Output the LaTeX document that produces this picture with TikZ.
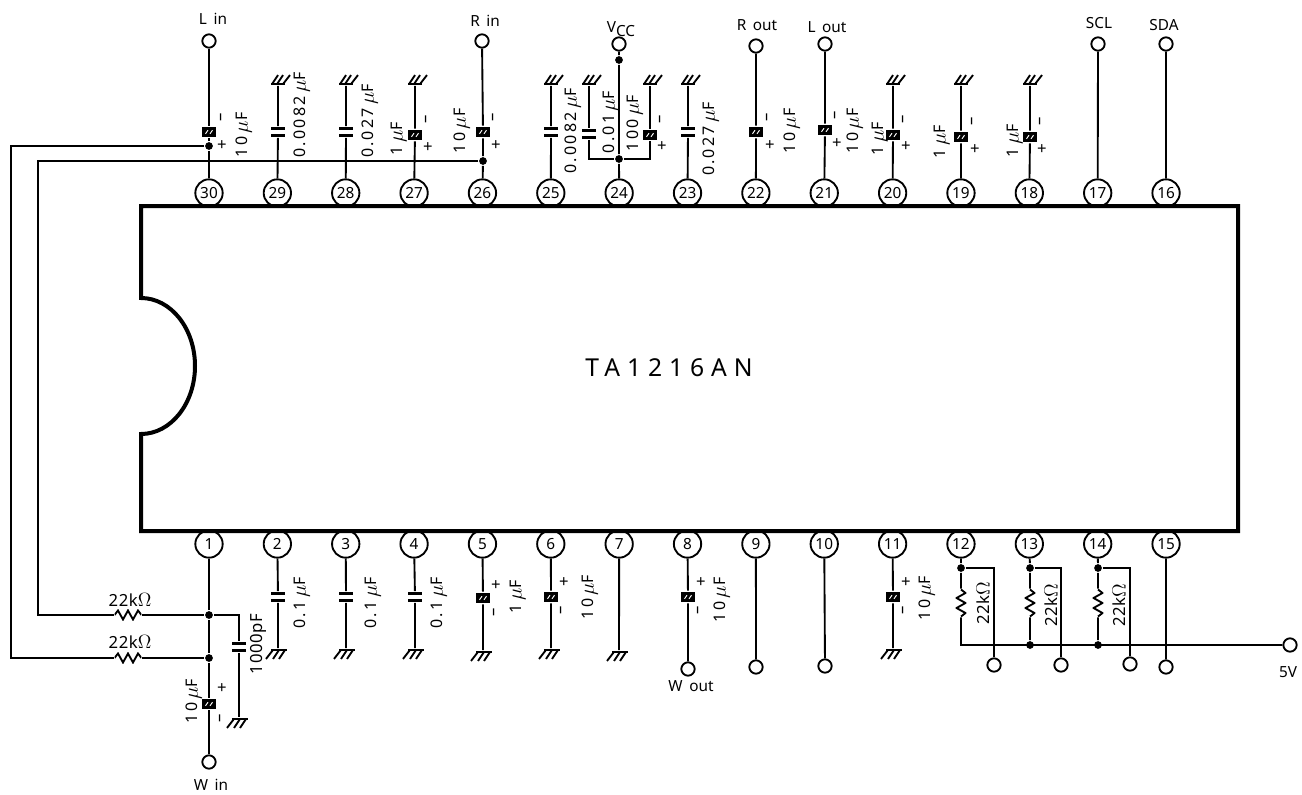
\documentclass[tikz,border=0pt]{standalone}
\usepackage{graphicx}
\usepackage{fontspec}
\setmainfont{Noto Sans}
\newfontfamily\spacedfont[LetterSpace=14]{Noto Sans}
\newfontfamily\midfont[LetterSpace=4]{Noto Sans}
\newfontfamily\chipfont[LetterSpace=28]{Noto Sans}
\usetikzlibrary{positioning,calc}

\newcommand{\uF}{\hspace{.22em}\scalebox{1.3}{$\mu$}F}
\newcommand{\kOhm}{k\scalebox{1.2}{$\Omega$}}

\tikzset{
  pbb/.style={shift={(path picture bounding box.center)}},
  pin/.style={circle,draw,fill=white,inner sep=0pt,minimum size=20.5pt,font=\fontsize{11.5}{12}\selectfont},
  term/.style={circle,draw,fill=white,inner sep=0pt,minimum size=10pt},
  dot/.style={circle,fill=black,inner sep=0pt,minimum size=5.8pt},
  lab/.style={inner sep=0pt,font=\fontsize{11.5}{12}\selectfont},
  olab/.style={inner sep=0pt,font=\midfont\fontsize{12.5}{13}\selectfont},
  vlab/.style={inner sep=0pt,rotate=90,text depth=0pt,font=\spacedfont\fontsize{12}{12}\selectfont},
  rlab/.style={inner sep=0pt,rotate=90,text depth=0pt,font=\midfont\fontsize{12.5}{13}\selectfont},
  plus/.style={inner sep=0pt,font=\fontsize{12.5}{13}\selectfont},
  minus/.style={inner sep=0pt,rotate=90,font=\bfseries\fontsize{12.5}{13}\selectfont},
  capnp/.style={fill=white,inner sep=0pt,minimum width=10.5pt,minimum height=7.5pt,
    path picture={\begin{scope}[pbb]
      \fill[black] (-7,-5) rectangle (7,-1.7);
      \fill[black] (-7,1.7) rectangle (7,5);
    \end{scope}}},
  capel/.style={fill=black,inner sep=0pt,minimum width=10.2pt,minimum height=8pt,
    path picture={\begin{scope}[pbb]
      \draw[white,line width=.7pt] (-3.5,1.8) -- (-1,-1.8) (1,1.8) -- (3.5,-1.8);
    \end{scope}}},
  gndup/.style={inner sep=0pt,anchor=south,minimum width=24pt,minimum height=9pt,
    path picture={\begin{scope}[pbb]
      \draw[line width=1.8pt] (-7,5) -- (7,5);
      \draw (-6,5) -- (0,-4) (-1,5) -- (5,-4) (5,5) -- (12,-4);
    \end{scope}}},
  gnddn/.style={inner sep=0pt,anchor=north,minimum width=24pt,minimum height=9pt,
    path picture={\begin{scope}[pbb]
      \draw[line width=1.8pt] (-7,-5) -- (9,-5);
      \draw (-5,-5) -- (-12,4) (1,-5) -- (-5,4) (7,-5) -- (1,4);
    \end{scope}}},
  resh/.style={inner sep=0pt,minimum width=20pt,minimum height=8pt,
    path picture={\begin{scope}[pbb]
      \draw (-13.5,0) -- (-10,-4.5) -- (-5,4.5) -- (0,-4.5) -- (5,4.5) -- (10,-4.5) -- (13.5,0);
    \end{scope}}},
  resv/.style={inner sep=0pt,minimum width=8pt,minimum height=20pt,
    path picture={\begin{scope}[pbb]
      \draw (0,-13.5) -- (4.5,-10) -- (-4.5,-5) -- (4.5,0) -- (-4.5,5) -- (4.5,10) -- (0,13.5);
    \end{scope}}},
}

\begin{document}
\begin{tikzpicture}[x=0.75pt,y=-0.75pt,line width=1.4pt]
\useasboundingbox (0,0) rectangle (1302,795);

\foreach \n in {1,...,15} {
  \pgfmathsetmacro{\px}{209+68.36*(\n-1)}
  \pgfmathtruncatemacro{\m}{31-\n}
  \node (p\n) [pin] at (\px,544) {\n};
  \node (p\m) [pin] at (\px,193) {\m};
}

\coordinate (a) at (141,298);
\draw[line width=3pt] (a) arc[start angle=-90,end angle=90,x radius=54,y radius=68] -- (141,531) -- (1238,531) -- (1238,206) -- (141,206) -- cycle;
\node (chip) [font=\chipfont\fontsize{18.5}{20}\selectfont] at (669,368) {TA1216AN};

% ------------------------------- top row, pins 30 to 26

\node (t30) [term] at (209,41) {};
\node (l30) [lab] at (213,19) {L\, in};
\node (c30) [capel] at (209,132) {};
\node (j30) [dot] at (209,146) {};
\node (m30) [minus] at (223,117) {\textendash};
\node (s30) [plus] at (222,146) {+};
\node (v30) [vlab] at (242,135) {10\uF};
\draw (t30) -- (c30) -- (j30) -- (p30);

\node (g29) [gndup] at (278,86) {};
\node (c29) [capnp] at (278,132) {};
\node (v29) [vlab] at (300,115) {0.0082\uF};
\draw (g29) -- (c29) -- (p29);

\node (g28) [gndup] at (346,86) {};
\node (c28) [capnp] at (346,132) {};
\node (v28) [vlab] at (368,121) {0.027\uF};
\draw (g28) -- (c28) -- (p28);

\node (g27) [gndup] at (415,86) {};
\node (c27) [capel] at (415,135) {};
\node (m27) [minus] at (428,119) {\textendash};
\node (s27) [plus] at (428,148) {+};
\node (v27) [vlab] at (397,139) {1\uF};
\draw (g27) -- (c27) -- (p27);

\node (t26) [term] at (482,41) {};
\node (l26) [lab] at (485,21) {R\, in};
\node (c26) [capel] at (483,132) {};
\node (j26) [dot] at (483,161) {};
\node (m26) [minus] at (495,117) {\textendash};
\node (s26) [plus] at (496,146) {+};
\node (v26) [vlab] at (460,131) {10\uF};
\draw (t26) -- (c26) -- (j26) -- (p26);

% ------------------------------- top row, pins 25 to 21

\node (g25) [gndup] at (551,86) {};
\node (c25) [capnp] at (551,132) {};
\node (v25) [vlab] at (571,131) {0.0082\uF};
\draw (g25) -- (c25) -- (p25);

\node (t24) [term] at (619,44) {};
\node (l24) [lab] at (621,29) {V\raisebox{-3pt}{CC}};
\node (j24a) [dot] at (619,60) {};
\node (j24b) [dot] at (619,159) {};
\node (g24a) [gndup] at (589,86) {};
\node (c24a) [capnp] at (589,134) {};
\node (v24a) [vlab] at (609,122) {0.01\uF};
\node (g24b) [gndup] at (650,86) {};
\node (c24b) [capel] at (650,135) {};
\node (m24) [minus] at (662,119) {\textendash};
\node (s24) [plus] at (662,147) {+};
\node (v24b) [vlab] at (633,123) {100\uF};
\draw (t24) -- (j24a) -- (j24b) -- (p24);
\draw (g24a) -- (c24a) |- (j24b) -| (c24b) -- (g24b);

\node (g23) [gndup] at (688,86) {};
\node (c23) [capnp] at (688,132) {};
\node (v23) [vlab] at (709,139) {0.027\uF};
\draw (g23) -- (c23) -- (p23);

\node (t22) [term] at (756,46) {};
\node (l22) [lab] at (757,25) {R\, out};
\node (c22) [capel] at (756,132) {};
\node (m22) [minus] at (769,117) {\textendash};
\node (s22) [plus] at (770,146) {+};
\node (v22) [vlab] at (790,131) {10\uF};
\draw (t22) -- (c22) -- (p22);

\node (t21) [term] at (825,44) {};
\node (l21) [lab] at (827,27) {L\, out};
\node (c21) [capel] at (825,130) {};
\node (m21) [minus] at (837,115) {\textendash};
\node (s21) [plus] at (837,144) {+};
\node (v21) [vlab] at (853,131) {10\uF};
\draw (t21) -- (c21) -- (p21);

% ------------------------------- top row, pins 20 to 16

\node (g20) [gndup] at (893,86) {};
\node (c20) [capel] at (893,135) {};
\node (m20) [minus] at (905,119) {\textendash};
\node (s20) [plus] at (906,147) {+};
\node (v20) [vlab] at (878,139) {1\uF};
\draw (g20) -- (c20) -- (p20);

\node (g19) [gndup] at (961,86) {};
\node (c19) [capel] at (961,137) {};
\node (m19) [minus] at (974,121) {\textendash};
\node (s19) [plus] at (975,150) {+};
\node (v19) [vlab] at (940,142) {1\uF};
\draw (g19) -- (c19) -- (p19);

\node (g18) [gndup] at (1030,86) {};
\node (c18) [capel] at (1030,137) {};
\node (m18) [minus] at (1042,121) {\textendash};
\node (s18) [plus] at (1042,150) {+};
\node (v18) [vlab] at (1013,141) {1\uF};
\draw (g18) -- (c18) -- (p18);

\node (t17) [term] at (1098,44) {};
\node (l17) [lab] at (1099,23) {SCL};
\draw (t17) -- (p17);

\node (t16) [term] at (1166,44) {};
\node (l16) [lab] at (1164,25) {SDA};
\draw (t16) -- (p16);

% ------------------------------- pin 1 and the feedback wires

\node (j1) [dot] at (209,615) {};
\node (j2) [dot] at (209,658) {};
\node (r1) [resh] at (128,615) {};
\node (r2) [resh] at (128,658) {};
\node (o1) [olab] at (130,600) {22\kOhm};
\node (o2) [olab] at (130,642) {22\kOhm};
\node (c1) [capel] at (209,704) {};
\node (s1) [plus] at (222,689) {+};
\node (m1) [minus] at (222,718) {\textendash};
\node (v1) [vlab] at (192,701) {10\uF};
\node (t1) [term] at (209,762) {};
\node (l1) [lab] at (211,785) {W\, in};
\node (cf) [capnp] at (239,647) {};
\node (gf) [gnddn] at (239,717) {};
\node (vf) [rlab] at (256,644) {1000pF};
\coordinate (w1) at (11,146);
\coordinate (w2) at (38,161);
\draw[line width=1.2pt] (j30) -- (w1) |- (r2);
\draw[line width=1.2pt] (j26) -- (w2) |- (r1);
\draw (r1) -- (j1) (r2) -- (j2);
\draw (p1) -- (j1) -- (j2) -- (c1) -- (t1);
\draw (j1) -| (cf) -- (gf);

% ------------------------------- bottom row, pins 2 to 11

\node (c2) [capnp] at (278,597) {};
\node (g2) [gnddn] at (278,648) {};
\node (v2) [vlab] at (300,603) {0.1\uF};
\draw (p2) -- (c2) -- (g2);

\node (c3) [capnp] at (346,597) {};
\node (g3) [gnddn] at (346,648) {};
\node (v3) [vlab] at (371,603) {0.1\uF};
\draw (p3) -- (c3) -- (g3);

\node (c4) [capnp] at (415,597) {};
\node (g4) [gnddn] at (415,648) {};
\node (v4) [vlab] at (437,603) {0.1\uF};
\draw (p4) -- (c4) -- (g4);

\node (c5) [capel] at (483,598) {};
\node (g5) [gnddn] at (483,650) {};
\node (s5) [plus] at (496,586) {+};
\node (m5) [minus] at (496,612) {\textendash};
\node (v5) [vlab] at (516,597) {1\uF};
\draw (p5) -- (c5) -- (g5);

\node (c6) [capel] at (551,597) {};
\node (g6) [gnddn] at (551,648) {};
\node (s6) [plus] at (564,583) {+};
\node (m6) [minus] at (563,610) {\textendash};
\node (v6) [vlab] at (588,597) {10\uF};
\draw (p6) -- (c6) -- (g6);

\node (g7) [gnddn] at (619,650) {};
\draw (p7) -- (g7);

\node (c8) [capel] at (688,597) {};
\node (t8) [term] at (688,669) {};
\node (l8) [lab] at (691,686) {W\, out};
\node (s8) [plus] at (701,583) {+};
\node (m8) [minus] at (700,610) {\textendash};
\node (v8) [vlab] at (720,600) {10\uF};
\draw (p8) -- (c8) -- (t8);

\node (t9) [term] at (756,667) {};
\draw (p9) -- (t9);

\node (t10) [term] at (825,666) {};
\draw (p10) -- (t10);

\node (c11) [capel] at (893,597) {};
\node (g11) [gnddn] at (893,648) {};
\node (s11) [plus] at (906,583) {+};
\node (m11) [minus] at (905,610) {\textendash};
\node (v11) [vlab] at (925,598) {10\uF};
\draw (p11) -- (c11) -- (g11);

% ------------------------------- bottom row, pins 12 to 15 and the 5V line

\node (t5v) [term] at (1290,645) {};
\node (l5v) [lab] at (1288,672) {5V};

\node (j12) [dot] at (961,568) {};
\node (r12) [resv] at (961,603) {};
\node (t12) [term] at (994,665) {};
\node (v12) [rlab] at (983,603) {22\kOhm};
\draw (p12) -- (j12) -- (r12) |- (t5v);
\draw (j12) -| (t12);

\node (j13) [dot] at (1030,568) {};
\node (r13) [resv] at (1030,603) {};
\node (b13) [dot] at (1030,645) {};
\node (t13) [term] at (1061,665) {};
\node (v13) [rlab] at (1051,605) {22\kOhm};
\draw (p13) -- (j13) -- (r13) -- (b13);
\draw (j13) -| (t13);

\node (j14) [dot] at (1098,568) {};
\node (r14) [resv] at (1098,603) {};
\node (b14) [dot] at (1098,645) {};
\node (t14) [term] at (1130,664) {};
\node (v14) [rlab] at (1119,605) {22\kOhm};
\draw (p14) -- (j14) -- (r14) -- (b14);
\draw (j14) -| (t14);

\node (t15) [term] at (1166,667) {};
\draw (p15) -- (t15);
\end{tikzpicture}
\end{document}
